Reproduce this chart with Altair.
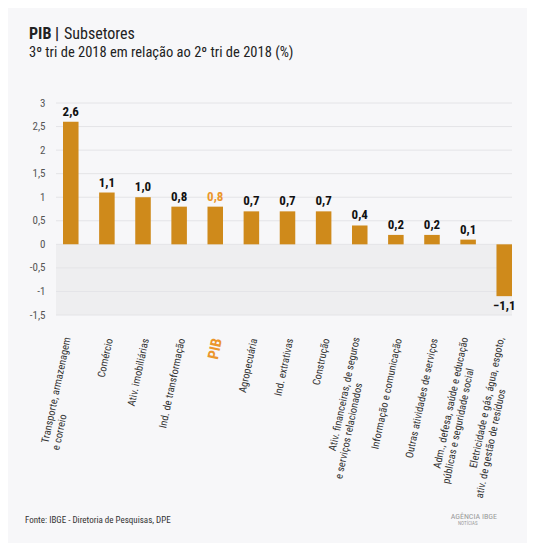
import altair as alt
import pandas as pd

# ---------------- data ----------------
line1 = [
    "Transporte, armazenagem", "Comércio", "Ativ. imobiliárias",
    "Ind. de transformação", "PIB", "Agropecuária", "Ind. extrativas",
    "Construção", "Ativ. financeiras, de seguros", "Informação e comunicação",
    "Outras atividades de serviços", "Adm., defesa, saúde e educação",
    "Eletricidade e gás, água, esgoto,",
]
line2 = [
    "e correio", "", "", "", "", "", "", "", "e serviços relacionados", "", "",
    "públicas e seguridade social", "ativ. de gestão de resíduos",
]
values = [2.6, 1.1, 1.0, 0.8, 0.8, 0.7, 0.7, 0.7, 0.4, 0.2, 0.2, 0.1, -1.1]
y_ticks = [-1.5, -1, -0.5, 0, 0.5, 1, 1.5, 2, 2.5, 3]
highlight = "PIB"
title_bold = "PIB |"
title_rest = "Subsetores"
subtitle = "3º tri de 2018 em relação ao 2º tri de 2018 (%)"
source = "Fonte: IBGE - Diretoria de Pesquisas, DPE"
logo_main = "AGÊNCIA IBGE"
logo_sub = "NOTÍCIAS"

# ---------------- style ----------------
W, H = 456, 212
FONT = "Roboto Condensed, Liberation Sans Narrow, DejaVu Sans Condensed, Roboto, sans-serif"
BG = "#f7f7f9"
BAND = "#eeeef0"
GRID = "#e4e4e7"
BAR = "#cf8a1b"
ORANGE = "#eb962c"
CW = 4.9      # estimated average char width of axis labels
HALF_BAND = 7.8

df = pd.DataFrame({"cat": line1, "l1": line1, "l2": line2, "v": values})
ticks_df = pd.DataFrame({"t": y_ticks})

x_enc = alt.X(
    "cat:N", sort=line1, axis=None,
    scale=alt.Scale(range=[7, W], paddingInner=0.57, paddingOuter=0),
)
y_scale = alt.Scale(domain=[-1.5, 3], nice=False)
y_axis = alt.Axis(
    values=y_ticks, labelExpr="replace(toString(datum.value), '.', ',')",
    grid=False, domain=False, ticks=False, labelPadding=11, labelOverlap=False,
    labelColor="#555555", labelFontSize=11, labelFont=FONT, title=None,
)

base = alt.Chart(df)

# negative-region band
band = alt.Chart(pd.DataFrame({"a": [0]})).mark_rect(color=BAND).encode(
    x=alt.value(0), x2=alt.value(W),
    y=alt.datum(0, scale=y_scale, axis=y_axis), y2=alt.datum(-1.5),
)

grid = alt.Chart(ticks_df).mark_rule(color=GRID, strokeWidth=1).encode(
    x=alt.value(0), x2=alt.value(W),
    y=alt.Y("t:Q", scale=y_scale, axis=y_axis),
)

bars = base.mark_bar(color=BAR).encode(
    x=x_enc, y=alt.Y("v:Q", scale=y_scale, axis=y_axis), y2=alt.datum(0)
)

lab = base.transform_calculate(
    lab="replace(format(datum.v, '.1f'), '.', ',')"
)
val_color = alt.condition(alt.datum.cat == highlight, alt.value(ORANGE), alt.value("#111111"))
pos_labels = lab.transform_filter("datum.v >= 0").mark_text(
    font=FONT, fontSize=13, fontWeight="bold", baseline="bottom", dy=-3
).encode(x=x_enc, y=alt.Y("v:Q", scale=y_scale, axis=y_axis), text="lab:N", color=val_color)
neg_labels = lab.transform_filter("datum.v < 0").mark_text(
    font=FONT, fontSize=13, fontWeight="bold", baseline="top", dy=4, color="#111111"
).encode(x=x_enc, y=alt.Y("v:Q", scale=y_scale, axis=y_axis), text="lab:N")

LY = H + 23
ANG = 282
single = base.transform_filter(f"datum.l2 == '' && datum.cat != '{highlight}'").mark_text(
    font=FONT, fontSize=10.5, color="#333333", align="right", baseline="middle",
    angle=ANG, dy=3,
).encode(x=x_enc, y=alt.value(LY), text="l1:N")

double1 = base.transform_filter("datum.l2 != ''").mark_text(
    font=FONT, fontSize=10.5, color="#333333", align="right", baseline="middle",
    angle=ANG, dy=-3,
).encode(x=x_enc, y=alt.value(LY), text="l1:N")

double2 = base.transform_filter("datum.l2 != ''").transform_calculate(
    ox=f"{HALF_BAND} - length(datum.l1) * {CW} * 0.2079",
    oy=f"length(datum.l1) * {CW} * 0.9781",
).mark_text(
    font=FONT, fontSize=10.5, color="#333333", align="left", baseline="middle",
    angle=ANG, dy=9,
).encode(
    x=x_enc, y=alt.value(LY), text="l2:N",
    xOffset=alt.XOffset("ox:Q", scale=None),
    yOffset=alt.YOffset("oy:Q", scale=None),
)

pib = base.transform_filter(f"datum.cat == '{highlight}'").mark_text(
    font=FONT, fontSize=15, fontWeight="bold", color=ORANGE, align="right",
    baseline="middle", angle=ANG, dy=2,
).encode(x=x_enc, y=alt.value(LY), text="l1:N")


def txt(s, x, y, size, weight="normal", color="#222222", align="left"):
    return alt.Chart(pd.DataFrame({"s": [s]})).mark_text(
        font=FONT, fontSize=size, fontWeight=weight, color=color, align=align,
        baseline="alphabetic",
    ).encode(x=alt.value(x), y=alt.value(y), text="s:N")


t1 = txt(title_bold, -27, -64, 16, "bold")
t2 = txt(title_rest, 8, -64, 16)
t3 = txt(subtitle, -27, -46, 14.5)
src = txt(source, -31, 420, 9, color="#333333")
lg1 = txt(logo_main, 441, 416, 8, color="#9a9a9a", align="right")
lg2 = txt(logo_sub, 402, 422, 5, color="#9a9a9a")

chart = alt.layer(
    band, grid, bars, pos_labels, neg_labels, single, double1, double2, pib,
    t1, t2, t3, src, lg1, lg2,
).properties(
    width=W, height=H,
    autosize=alt.AutoSizeParams(type="none"),
    padding={"left": 48, "top": 95, "right": 15, "bottom": 228},
).configure(background=BG).configure_view(stroke=None)

chart.save("out.html", embed_options={"renderer": "svg", "actions": False})
